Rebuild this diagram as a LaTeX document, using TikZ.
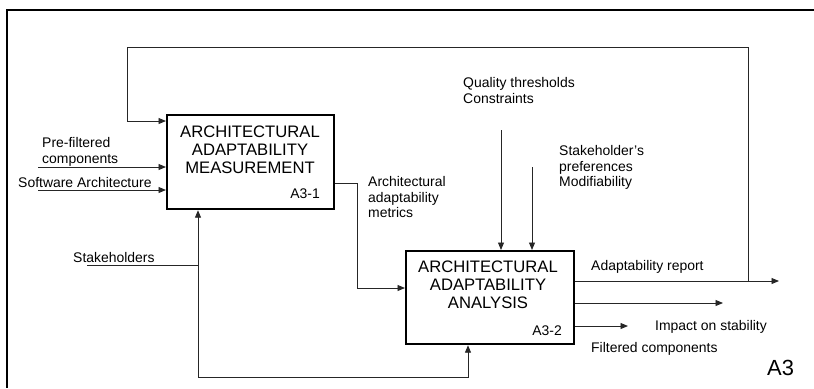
\documentclass[tikz,border=0pt]{standalone}
\usepackage{fontspec}
\setmainfont{Liberation Sans}
\usetikzlibrary{arrows.meta}
\begin{document}
\begin{tikzpicture}[x=1bp,y=-1bp,
  lbl/.style={font=\fontsize{14}{15.5}\selectfont, inner sep=0pt, align=left},
  boxtitle/.style={font=\fontsize{16.7}{18}\selectfont, inner sep=0pt, align=center},
  actbox/.style={draw, line width=2.2bp, inner sep=0pt, anchor=north west},
  flow/.style={line width=0.9bp, draw=black!85},
  arr/.style={flow, -{Triangle[length=7.5bp,width=6bp]}},
  frame/.style={line width=2.4bp}]
\useasboundingbox (0,0) rectangle (814,388);

% diagram frame: top and left edges
\draw[frame] (814,10) -- (7,10) -- (7,388);

% activity boxes
\node[actbox, minimum width=167bp, minimum height=94bp] (m) at (166,114) {};
\node[actbox, minimum width=168bp, minimum height=93bp] (b) at (405,250) {};

\node[boxtitle, anchor=north] (mtitle) at (250,126) {ARCHITECTURAL\\ADAPTABILITY\\MEASUREMENT};
\node[lbl, anchor=base east] (mid) at (320,198) {A3-1};
\node[boxtitle, anchor=north] (btitle) at (488,261) {ARCHITECTURAL\\ADAPTABILITY\\ANALYSIS};
\node[lbl, anchor=base east] (bid) at (562,335) {A3-2};

% labels
\node[lbl, anchor=north west] (tpf) at (42,137.5) {Pre-filtered\\components};
\node[lbl, anchor=base west] (tsa) at (18,187) {Software Architecture};
\node[lbl, anchor=base west] (tsh) at (73,262) {Stakeholders};
\node[lbl, anchor=north west] (tam) at (368,176.5) {Architectural\\adaptability\\metrics};
\node[lbl, anchor=north west] (tqt) at (463,77.5) {Quality thresholds\\Constraints};
\node[lbl, anchor=north west] (tsp) at (559,145.5) {Stakeholder's\\preferences\\Modifiability};
\node[lbl, anchor=base west] (tar) at (591,270) {Adaptability report};
\node[lbl, anchor=base west] (tis) at (655,330) {Impact on stability};
\node[lbl, anchor=base west] (tfc) at (591,352) {Filtered components};
\node[anchor=base west, inner sep=0pt, font=\fontsize{22}{24}\selectfont] (ta3) at (767,375) {A3};

% connector anchor points
\coordinate (fb) at (748,281);
\coordinate (fbtop) at (127,47);
\coordinate (fbin) at (127,121);
\coordinate (pf) at (38,167);
\coordinate (sa) at (38,190);
\coordinate (mo) at (357,183);
\coordinate (bi) at (357,288);
\coordinate (sh) at (87,265);
\coordinate (sj) at (198,265);
\coordinate (sb) at (198,377);
\coordinate (sc) at (468,377);
\coordinate (qt) at (501,130);
\coordinate (sp) at (532,167);
\coordinate (o1) at (779,281);
\coordinate (o2) at (723,303);
\coordinate (o3) at (628,326);

% inputs
\draw[arr] (pf) -- (m.west |- pf);
\draw[arr] (sa) -- (m.west |- sa);
\draw[arr] (mo -| m.east) -- (mo) -- (bi) -- (b.west |- bi);

% feedback of the report into the measurement
\draw[arr] (fb) |- (fbtop) -- (fbin) -- (m.west |- fbin);

% mechanism: stakeholders
\draw[flow] (sh) -- (sj);
\draw[arr] (sb) -- (m.south -| sb);
\draw[arr] (sb) -- (sc) -- (b.south -| sc);

% controls
\draw[arr] (qt) -- (b.north -| qt);
\draw[arr] (sp) -- (b.north -| sp);

% outputs
\draw[arr] (b.east |- o1) -- (o1);
\draw[arr] (b.east |- o2) -- (o2);
\draw[arr] (b.east |- o3) -- (o3);
\end{tikzpicture}
\end{document}
